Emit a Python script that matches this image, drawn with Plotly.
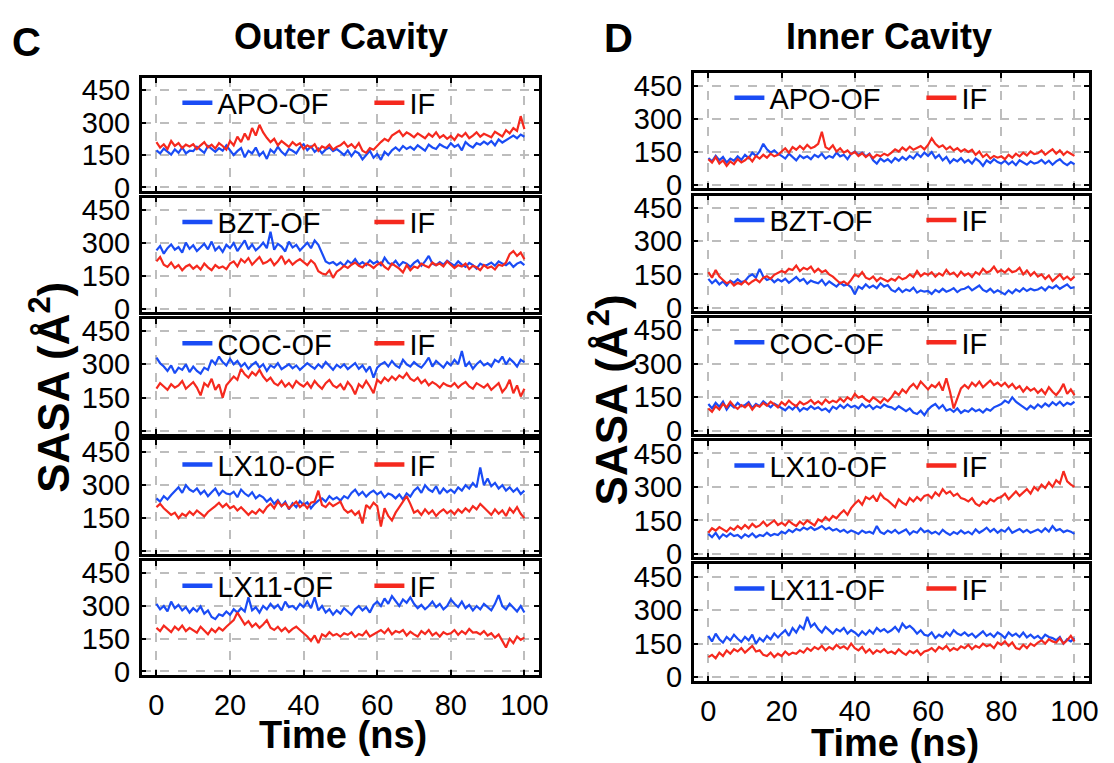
import plotly.graph_objects as go

# ---------------- data ----------------
TIME_NS = list(range(0, 101))
X_TICKS = [0, 20, 40, 60, 80, 100]
Y_TICKS = [0, 150, 300, 450]
SYSTEMS = ["APO", "BZT", "COC", "LX10", "LX11"]

# Outer cavity (panel C)
OUT_APO_OF = [172,158,180,165,152,176,160,185,158,170,
              168,188,175,160,192,178,165,182,170,195,
              172,150,168,182,140,170,158,185,148,165,
              132,175,160,188,165,150,178,170,158,185,
              200,172,190,165,180,158,176,185,168,178,
              165,150,172,145,168,158,130,148,170,138,
              155,128,165,150,172,185,170,192,178,188,
              175,195,182,170,198,185,178,200,190,182,
              205,188,198,172,210,195,185,205,198,212,
              200,215,195,222,208,218,230,240,228,245,
              235]
OUT_APO_IF = [210,185,200,178,215,192,205,182,198,190,
              200,178,195,210,185,198,180,205,192,175,
              215,195,235,210,250,220,275,240,290,255,
              230,210,225,195,215,200,188,210,195,205,
              178,195,185,200,170,190,182,198,175,188,
              195,210,188,200,182,205,170,160,182,175,
              195,210,225,215,240,250,262,238,255,245,
              232,250,240,228,248,235,255,230,242,225,
              238,220,245,235,252,228,240,255,235,248,
              240,232,258,245,236,265,250,275,262,330,
              270]
OUT_BZT_OF = [265,285,250,275,292,268,280,255,300,272,
              288,262,278,295,270,305,265,282,258,290,
              275,298,262,285,310,270,292,265,280,300,
              275,350,268,295,282,260,305,278,290,265,
              285,300,275,310,290,250,215,205,212,198,
              210,195,218,205,225,200,212,198,220,205,
              215,198,232,208,200,218,195,212,205,190,
              208,220,195,215,240,205,198,212,200,218,
              205,195,215,200,190,208,198,182,205,195,
              200,210,195,215,205,198,210,190,205,212,
              198]
OUT_BZT_IF = [215,235,200,190,210,185,198,175,192,200,
              182,195,178,205,188,175,198,185,192,180,
              205,215,192,225,210,230,200,218,235,205,
              212,225,198,215,240,205,222,200,215,225,
              210,198,220,205,170,160,155,175,140,168,
              180,195,185,200,210,195,188,205,198,185,
              200,210,190,178,205,195,182,165,198,175,
              192,185,205,195,188,210,198,205,192,215,
              200,185,198,192,205,180,195,188,175,198,
              185,192,178,200,195,210,248,262,240,255,
              225]
OUT_COC_OF = [330,305,290,270,295,260,285,275,300,265,
              290,270,258,285,275,320,300,335,310,295,
              325,300,315,290,305,280,298,310,285,300,
              270,295,285,305,278,290,300,282,295,275,
              288,305,292,280,300,285,310,290,275,298,
              285,300,278,292,305,280,295,268,290,240,
              285,300,310,290,315,295,285,320,300,290,
              310,295,285,305,330,290,315,300,285,310,
              295,320,300,360,290,310,280,300,315,295,
              305,290,320,310,335,300,325,310,290,320,
              310]
OUT_COC_IF = [190,215,200,185,210,195,205,225,190,205,
              220,195,160,215,200,235,185,210,150,205,
              225,245,230,280,255,240,265,250,275,245,
              225,240,215,205,225,200,215,195,225,210,
              200,218,195,225,205,190,215,230,205,195,
              210,185,220,200,165,210,195,225,200,170,
              230,215,240,225,245,230,250,238,260,235,
              225,240,215,230,205,220,210,195,215,205,
              200,215,195,210,220,200,190,215,205,195,
              210,185,200,215,175,195,230,170,205,155,
              190]
OUT_LX10_OF = [240,225,250,235,255,275,290,265,300,280,
               270,285,260,275,250,268,285,255,275,262,
               258,270,245,280,262,250,268,240,255,245,
               225,240,215,232,205,225,190,218,200,228,
               210,222,195,215,230,240,225,250,235,245,
               230,250,240,265,280,255,270,248,265,275,
               258,270,245,262,255,240,258,235,262,248,
               275,290,265,300,280,270,295,260,285,268,
               280,265,290,275,300,285,310,290,380,300,
               330,295,310,285,300,275,290,270,285,260,
               275]
OUT_LX10_IF = [200,215,195,180,165,175,150,170,160,180,
               165,185,170,158,178,190,205,220,200,215,
               195,205,185,200,180,165,182,170,190,175,
               200,215,195,225,205,218,195,210,225,200,
               215,195,220,225,275,210,200,220,205,215,
               225,190,175,185,165,180,126,210,195,220,
               205,112,195,160,140,175,200,225,250,215,
               175,185,165,190,170,185,160,178,190,172,
               185,168,190,175,195,180,205,190,215,198,
               180,165,190,170,185,160,195,175,200,170,
               150]
OUT_LX11_OF = [310,285,300,275,320,290,305,280,295,270,
               290,275,298,265,280,250,240,262,255,275,
               260,285,270,290,275,340,280,295,270,300,
               285,310,290,305,280,320,295,300,285,310,
               295,320,290,340,280,300,270,285,260,280,
               265,290,275,260,285,300,280,295,270,305,
               320,300,335,310,345,320,300,330,315,340,
               310,290,305,285,300,320,295,310,285,300,
               330,310,295,320,290,305,280,300,285,310,
               295,280,310,350,300,285,310,290,275,300,
               270]
OUT_LX11_IF = [200,185,210,195,180,205,190,210,185,200,
               190,178,205,185,170,195,180,200,188,205,
               220,235,270,240,215,230,205,220,200,215,
               235,200,190,205,185,200,180,195,205,190,
               175,160,140,165,130,170,160,180,165,172,
               160,175,168,180,158,172,165,185,160,170,
               180,190,175,195,170,185,178,190,165,182,
               170,160,185,172,190,165,178,160,180,170,
               175,190,168,185,172,195,178,180,170,185,
               165,175,155,170,140,110,150,130,160,145,
               155]

# Inner cavity (panel D)
IN_APO_OF = [120,105,130,110,125,100,118,108,128,112,
             135,120,145,130,150,185,160,145,155,140,
             130,118,140,125,110,132,120,128,115,135,
             125,140,118,130,122,145,128,135,115,140,
             150,135,145,128,140,110,95,118,105,115,
             100,120,108,125,112,130,118,140,125,145,
             130,148,120,135,110,125,98,115,105,120,
             100,112,95,118,105,85,110,98,115,102,
             95,108,92,105,88,110,98,90,105,95,
             100,112,95,108,90,105,115,98,88,102,
             92]
IN_APO_IF = [115,100,125,95,110,85,105,92,115,100,
             110,125,105,130,118,135,122,140,128,135,
             150,165,145,170,158,175,160,180,165,172,
             185,240,170,160,178,150,165,145,155,138,
             148,130,142,125,138,120,135,128,140,132,
             145,160,150,168,155,172,158,165,175,160,
             180,210,185,170,178,160,172,155,165,150,
             160,148,158,135,150,125,138,118,130,122,
             128,115,135,122,140,128,145,132,150,138,
             142,155,135,148,160,140,155,135,150,140,
             130]
IN_BZT_OF = [130,110,125,105,118,100,122,112,128,115,
             120,140,150,135,175,140,125,132,115,128,
             118,130,112,125,138,120,130,108,122,115,
             110,125,102,118,108,95,112,100,105,92,
             60,95,85,105,90,100,88,110,95,102,
             80,72,88,70,82,75,90,68,78,72,
             75,62,80,70,85,72,78,88,70,82,
             85,95,78,90,100,80,72,85,68,78,
             70,60,78,65,82,72,88,75,85,78,
             82,92,78,95,88,100,85,95,105,88,
             92]
IN_BZT_IF = [160,135,170,140,125,110,118,100,112,105,
             120,105,118,128,115,135,142,130,148,155,
             165,158,175,170,190,165,180,172,185,160,
             175,160,168,150,140,125,110,118,105,125,
             150,140,160,135,128,140,120,135,125,118,
             130,122,140,128,135,150,138,165,142,155,
             148,160,140,155,145,170,150,158,140,162,
             145,155,138,160,150,175,158,165,185,160,
             170,158,175,160,165,180,150,168,145,160,
             140,150,130,145,120,135,150,128,140,125,
             140]
IN_COC_OF = [120,100,125,108,130,95,118,105,125,110,
             115,128,102,120,110,132,118,105,122,112,
             100,92,108,95,112,88,102,95,110,98,
             105,92,100,85,108,98,115,102,118,105,
             112,100,120,105,115,98,110,102,118,108,
             105,95,110,98,88,100,82,75,90,70,
             95,110,120,100,115,90,98,85,100,80,
             92,85,100,88,95,82,98,90,105,112,
             120,135,125,150,130,118,108,95,112,100,
             118,105,122,110,128,115,130,112,125,118,
             130]
IN_COC_IF = [100,85,110,95,120,105,130,110,98,115,
             105,120,95,115,108,125,112,130,118,105,
             128,115,135,120,110,130,118,125,138,120,
             132,118,140,125,135,128,145,130,150,138,
             165,148,155,140,130,150,138,125,145,132,
             150,175,160,185,170,195,210,190,220,200,
             185,205,195,215,180,235,175,100,150,190,
             205,190,215,200,220,195,210,225,205,215,
             200,215,195,210,188,200,175,195,180,190,
             170,185,165,195,175,160,180,210,165,185,
             160]
IN_LX10_OF = [90,75,95,70,88,78,92,80,85,72,
              88,78,92,75,85,80,95,82,90,85,
              100,92,108,98,112,105,118,110,120,108,
              115,125,110,118,105,112,100,108,95,105,
              98,90,105,95,100,92,125,98,90,105,
              95,108,92,100,110,88,102,95,115,98,
              105,92,100,88,108,95,85,98,90,105,
              92,100,88,110,95,105,118,100,112,95,
              108,100,118,95,105,112,98,108,95,102,
              110,98,115,100,125,105,112,98,105,100,
              90]
IN_LX10_IF = [95,115,105,120,110,100,118,108,125,112,
              130,115,135,120,128,145,125,138,150,130,
              140,128,148,135,125,145,132,150,138,128,
              155,145,165,150,170,160,180,195,175,205,
              225,240,220,255,245,260,235,270,250,240,
              225,210,245,230,220,250,235,255,240,260,
              265,250,275,260,290,270,280,260,270,250,
              245,235,250,225,215,235,225,245,235,250,
              255,270,245,265,280,260,275,290,270,300,
              285,310,295,320,300,330,315,370,325,310,
              300]
IN_LX11_OF = [185,160,195,170,155,180,165,190,172,158,
              180,165,190,150,175,160,185,170,195,178,
              195,210,185,220,200,230,215,270,225,240,
              215,200,225,210,195,215,205,220,195,210,
              200,185,205,190,210,195,220,205,215,200,
              210,225,205,240,220,230,215,195,210,190,
              185,200,175,190,180,200,185,210,195,188,
              200,185,195,178,190,205,185,195,180,200,
              190,175,200,185,195,180,200,178,190,175,
              185,170,190,180,175,165,180,150,170,160,
              175]
IN_LX11_IF = [90,100,85,110,95,120,105,125,115,130,
              110,125,140,115,120,100,95,110,90,105,
              95,115,100,110,105,120,110,130,118,135,
              125,140,120,135,125,145,130,138,125,150,
              130,120,135,110,125,105,120,112,125,108,
              115,105,125,110,100,118,108,120,100,115,
              120,130,115,135,125,140,118,130,122,138,
              130,145,125,140,132,150,138,145,130,155,
              145,160,140,155,130,125,145,130,150,140,
              155,165,150,170,160,155,175,150,165,185,
              160]

OUTER_OF = [OUT_APO_OF, OUT_BZT_OF, OUT_COC_OF, OUT_LX10_OF, OUT_LX11_OF]
OUTER_IF = [OUT_APO_IF, OUT_BZT_IF, OUT_COC_IF, OUT_LX10_IF, OUT_LX11_IF]
INNER_OF = [IN_APO_OF, IN_BZT_OF, IN_COC_OF, IN_LX10_OF, IN_LX11_OF]
INNER_IF = [IN_APO_IF, IN_BZT_IF, IN_COC_IF, IN_LX10_IF, IN_LX11_IF]

# ---------------- styling / layout ----------------
W, H = 1114, 763
BLUE = "#1a4cf5"
RED = "#f5291e"
FONT = "Liberation Sans"
TICK_SIZE = 29
LEG_SIZE = 29

COLS = [
    dict(x0=143, x1=544, rows=[(76, 191), (198, 315), (322, 440), (446, 563), (570, 686)],
         of=OUTER_OF, inf=OUTER_IF),
    dict(x0=700, x1=1099, rows=[(71, 188), (196, 314), (321, 440), (447, 566), (573, 692)],
         of=INNER_OF, inf=INNER_IF),
]


def px(x):
    return x / W


def py(y):
    return 1 - y / H


fig = go.Figure()
layout = dict(
    width=W, height=H,
    margin=dict(l=0, r=0, t=0, b=0),
    paper_bgcolor="white", plot_bgcolor="white",
    font=dict(family=FONT, color="black"),
    showlegend=True,
)

idx = 0
for c, col in enumerate(COLS):
    for r, (top, bot) in enumerate(col["rows"]):
        idx += 1
        sfx = "" if idx == 1 else str(idx)
        xa, ya = "x" + sfx, "y" + sfx
        lg = "legend" + sfx
        common = dict(
            ticks="inside", ticklen=5, tickwidth=1.5, tickcolor="black",
            showline=True, linecolor="black", linewidth=2.5, mirror="ticks",
            showgrid=True, gridcolor="#bdbdbd", griddash="dash", gridwidth=1.5,
            zeroline=False, tickfont=dict(family=FONT, size=TICK_SIZE, color="black"),
        )
        layout["xaxis" + sfx] = dict(
            domain=[px(col["x0"]), px(col["x1"])], range=[-4, 104],
            tickvals=X_TICKS, showticklabels=(r == 4), anchor=ya,
            ticklabelstandoff=3, **common)
        layout["yaxis" + sfx] = dict(
            domain=[py(bot), py(top)], range=[-15, 505],
            tickvals=Y_TICKS, anchor=xa, ticklabelstandoff=3, **common)
        layout[lg] = dict(
            x=px(col["x0"] + 36), y=py(top - 1), xanchor="left", yanchor="top",
            orientation="h", bgcolor="rgba(0,0,0,0)", borderwidth=0,
            font=dict(family=FONT, size=LEG_SIZE, color="black"),
            entrywidth=147, traceorder="normal",
        )
        of_vals = col["of"][r]
        if_vals = col["inf"][r]
        fig.add_trace(go.Scatter(x=TIME_NS, y=of_vals, mode="lines", xaxis=xa, yaxis=ya,
                                 line=dict(color=BLUE, width=2.2), showlegend=False,
                                 hoverinfo="skip"))
        fig.add_trace(go.Scatter(x=TIME_NS, y=if_vals, mode="lines", xaxis=xa, yaxis=ya,
                                 line=dict(color=RED, width=2.2), showlegend=False,
                                 hoverinfo="skip"))
        # legend entries
        fig.add_trace(go.Scatter(x=[None], y=[None], mode="lines", xaxis=xa, yaxis=ya,
                                 line=dict(color=BLUE, width=4.5), name=SYSTEMS[r] + "-OF",
                                 legend=lg, showlegend=True))
        fig.add_trace(go.Scatter(x=[None], y=[None], mode="lines", xaxis=xa, yaxis=ya,
                                 line=dict(color=RED, width=4.5), name="IF",
                                 legend=lg, showlegend=True))


def ann(text, x, y, size, angle=0, bold=True):
    return dict(text=text, x=px(x), y=py(y), xref="paper", yref="paper",
                xanchor="center", yanchor="middle", showarrow=False, textangle=angle,
                font=dict(family=FONT, size=size, color="black",
                          weight="bold" if bold else "normal"))


layout["annotations"] = [
    ann("C", 27, 39, 40),
    ann("Outer Cavity", 344, 33, 36),
    ann("D", 624, 35, 40),
    ann("Inner Cavity", 897, 33, 36),
    ann("Time (ns)", 346, 748, 38),
    ann("Time (ns)", 903, 756, 38),
    ann("SASA (Å<sup>2</sup>)", 50, 392, 44, angle=-90),
    ann("SASA (Å<sup>2</sup>)", 614, 405, 44, angle=-90),
]

fig.update_layout(**layout)
fig.write_html("out.html")
